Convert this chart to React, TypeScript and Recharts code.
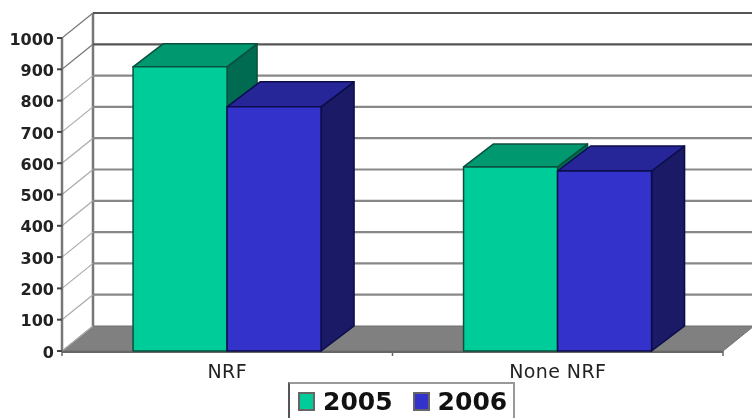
import React from 'react';
import { BarChart, Bar, XAxis, YAxis, CartesianGrid, Legend } from 'recharts';

const categories = ['NRF', 'None NRF'];
const values2005 = [908, 588];
const values2006 = [780, 575];
const yTicks = [0, 100, 200, 300, 400, 500, 600, 700, 800, 900, 1000];

const rows = categories.map((name, i) => ({ name, y2005: values2005[i], y2006: values2006[i] }));

const DEPTH_X = 31;
const DEPTH_Y = -25;
const PLOT_TOP = 38;
const PLOT_BOTTOM = 351;
const FONT = '"DejaVu Sans", sans-serif';

const colors2005 = { front: '#00cc99', top: '#00996f', side: '#006b50', edge: '#0b4f3e', dx: 30, dy: -23 };
const colors2006 = { front: '#3333cc', top: '#262699', side: '#1a1a66', edge: '#0c0c4a', dx: 33, dy: -25 };

const makeBar = (c: typeof colors2005) => (props: any) => {
  const { x, y, width, height } = props;
  const r = x + width;
  const b = y + height;
  const { dx, dy } = c;
  return (
    <g stroke={c.edge} strokeWidth={1.5} strokeLinejoin="round">
      <polygon points={`${r},${y} ${r + dx},${y + dy} ${r + dx},${b + dy} ${r},${b}`} fill={c.side} />
      <polygon points={`${x},${y} ${x + dx},${y + dy} ${r + dx},${y + dy} ${r},${y}`} fill={c.top} />
      <rect x={x} y={y} width={width} height={height} fill={c.front} />
    </g>
  );
};

// each grid line runs along the left wall, then across the back wall
const wallLine = (props: any) => {
  const { x1, x2, y1, index } = props;
  const bx = x1 + DEPTH_X;
  const by = y1 + DEPTH_Y;
  const isFloor = Math.abs(y1 - PLOT_BOTTOM) < 1;
  const isUpper = Math.abs(y1 - PLOT_TOP) < 40;
  return (
    <g key={`wall-${index}`}>
      {isFloor && (
        <g>
          <polygon
            points={`${x1},${y1} ${bx},${by} ${x2 + DEPTH_X},${by} ${x2},${y1}`}
            fill="#808080"
            stroke="#6e6e6e"
          />
          <line x1={bx} y1={by} x2={bx} y2={PLOT_TOP + DEPTH_Y} stroke="#777" strokeWidth={2.5} />
          <line x1={x1} y1={y1 + 1} x2={x2} y2={y1 + 1} stroke="#666" strokeWidth={2} />
          {[x1, (x1 + x2) / 2, x2].map((tx) => (
            <line key={tx} x1={tx} y1={y1} x2={tx} y2={y1 + 5} stroke="#666" strokeWidth={1.5} />
          ))}
        </g>
      )}
      <line x1={x1} y1={y1} x2={bx} y2={by} stroke={isUpper ? '#777' : '#aaa'} strokeWidth={1.2} />
      {!isFloor && (
        <line x1={bx} y1={by} x2={x2 + DEPTH_X} y2={by} stroke={isUpper ? '#555' : '#888'} strokeWidth={2.2} />
      )}
    </g>
  );
};

const renderLegend = (props: any) => (
  <div
    style={{
      boxSizing: 'border-box',
      height: 36,
      width: 227,
      borderTop: '2px solid #999',
      borderLeft: '2px solid #555',
      borderRight: '2px solid #999',
      background: '#fff',
      display: 'flex',
      alignItems: 'center',
      paddingLeft: 8,
      paddingTop: 1,
      fontFamily: FONT,
      fontWeight: 700,
      fontSize: 25,
      color: '#111',
    }}
  >
    {props.payload.map((p: any) => (
      <span key={p.value} style={{ display: 'flex', alignItems: 'center', marginRight: 20 }}>
        <span
          style={{
            boxSizing: 'border-box',
            width: 17,
            height: 19,
            background: p.color,
            border: '2px solid #666',
            marginRight: 8,
          }}
        />
        {p.value}
      </span>
    ))}
  </div>
);

const App: React.FC = () => (
  <div
    style={{
      position: 'absolute',
      left: 0,
      top: 0,
      width: 752,
      height: 418,
      overflow: 'hidden',
      background: '#fff',
      filter: 'blur(0.45px)',
    }}
  >
    <BarChart
      width={752}
      height={418}
      data={rows}
      margin={{ top: PLOT_TOP, right: 29, bottom: 1, left: 0 }}
      barCategoryGap="21.5%"
      barGap={0}
    >
      <CartesianGrid vertical={false} horizontal={wallLine} />
      <XAxis
        dataKey="name"
        axisLine={false}
        tickLine={false}
        height={30}
        tick={{ fill: '#222', fontFamily: FONT, fontSize: 19, letterSpacing: 0.4, dy: 6 }}
      />
      <YAxis
        domain={[0, 1000]}
        ticks={yTicks}
        interval={0}
        width={62}
        axisLine={{ stroke: '#777', strokeWidth: 2.5 }}
        tickLine={{ stroke: '#444', strokeWidth: 2 }}
        tickSize={5}
        tickMargin={3}
        tick={{ fill: '#222', fontFamily: FONT, fontSize: 16, fontWeight: 700, dy: 1 }}
      />
      <Legend
        content={renderLegend}
        wrapperStyle={{ left: 288, width: 227, bottom: 0 }}
        height={36}
      />
      <Bar dataKey="y2005" name="2005" fill={colors2005.front} shape={makeBar(colors2005)} isAnimationActive={false} />
      <Bar dataKey="y2006" name="2006" fill={colors2006.front} shape={makeBar(colors2006)} isAnimationActive={false} />
    </BarChart>
  </div>
);

export default App;
